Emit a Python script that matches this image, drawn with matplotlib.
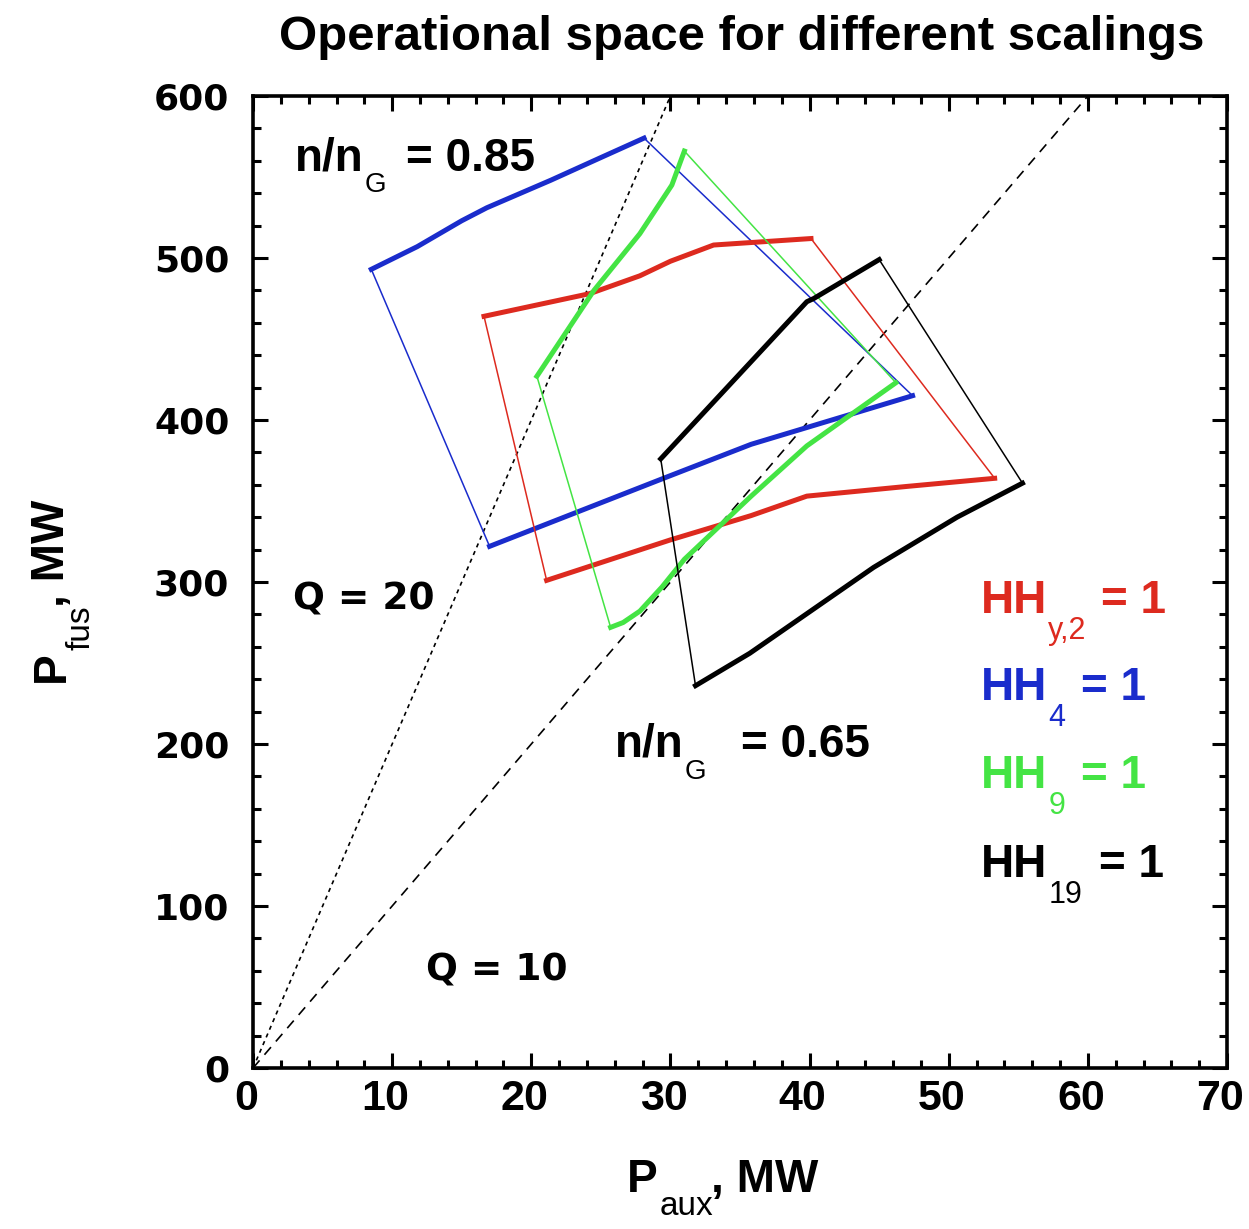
import numpy as np
import matplotlib
matplotlib.use("Agg")
import matplotlib.pyplot as plt
import matplotlib.transforms as mtransforms
from matplotlib.ticker import MultipleLocator

plt.rcParams['font.family'] = ['Liberation Sans', 'DejaVu Sans']

# operating boundaries, P_aux (MW) vs P_fus (MW), for each confinement scaling
# "hi" = n/nG = 0.85 edge, "lo" = n/nG = 0.65 edge, both ordered by P_aux
hy2_pa_hi = [16.6, 24.2, 27.8, 30.0, 33.1, 40.1]
hy2_pf_hi = [464, 478, 489, 498, 508, 512]
hy2_pa_lo = [21.1, 30.0, 35.8, 39.8, 47.0, 53.3]
hy2_pf_lo = [301, 326, 341, 353, 359, 364]

hh4_pa_hi = [8.5, 11.8, 15.0, 16.8, 21.4, 25.0, 28.1]
hh4_pf_hi = [493, 507, 523, 531, 548, 562, 574]
hh4_pa_lo = [17.0, 29.5, 35.8, 47.4]
hh4_pf_lo = [322, 364, 385, 415]

hh9_pa_hi = [20.4, 24.5, 27.8, 30.1, 31.0]
hh9_pf_hi = [427, 480, 515, 545, 566]
hh9_pa_lo = [25.7, 26.6, 27.8, 29.4, 31.0, 35.8, 39.8, 46.2]
hh9_pf_lo = [272, 275, 282, 297, 314, 353, 384, 423]

hh19_pa_hi = [29.3, 39.8, 40.3, 45.0]
hh19_pf_hi = [376, 473, 475, 499]
hh19_pa_lo = [31.8, 35.7, 44.6, 50.6, 55.3]
hh19_pf_lo = [236, 256, 309, 340, 361]

q_values = [20, 10]
q_dashes = [(2.5, 2.5), (6.0, 4.5)]

RED = '#dd2a1f'
BLUE = '#1a2ccc'
GREEN = '#44e444'
BLACK = 'black'

fig = plt.figure(figsize=(12.49, 12.29), dpi=100)
ax = fig.add_axes([0.2026, 0.131, 0.7798, 0.7909])
ax.set_xlim(0, 70)
ax.set_ylim(0, 600)

# Q = P_fus / P_aux lines
for q, dash in zip(q_values, q_dashes):
    pa = np.array([0, 600 / q])
    ax.plot(pa, q * pa, color='black', lw=1.2, dashes=dash)


def draw_region(pa_hi, pf_hi, pa_lo, pf_lo, color):
    ax.plot(pa_hi, pf_hi, color=color, lw=3.6, solid_joinstyle='round')
    ax.plot(pa_lo, pf_lo, color=color, lw=3.6, solid_joinstyle='round')
    # thin sides joining the two density edges
    ax.plot([pa_hi[-1], pa_lo[-1]], [pf_hi[-1], pf_lo[-1]], color=color, lw=1.1)
    ax.plot([pa_hi[0], pa_lo[0]], [pf_hi[0], pf_lo[0]], color=color, lw=1.1)


draw_region(hh4_pa_hi, hh4_pf_hi, hh4_pa_lo, hh4_pf_lo, BLUE)
draw_region(hy2_pa_hi, hy2_pf_hi, hy2_pa_lo, hy2_pf_lo, RED)
draw_region(hh9_pa_hi, hh9_pf_hi, hh9_pa_lo, hh9_pf_lo, GREEN)
draw_region(hh19_pa_hi, hh19_pf_hi, hh19_pa_lo, hh19_pf_lo, BLACK)

# axes frame and ticks
for sp in ax.spines.values():
    sp.set_linewidth(2.6)
ax.xaxis.set_major_locator(MultipleLocator(10))
ax.xaxis.set_minor_locator(MultipleLocator(2))
ax.yaxis.set_major_locator(MultipleLocator(100))
ax.yaxis.set_minor_locator(MultipleLocator(20))
ax.tick_params(which='both', direction='in', top=True, right=True, width=2.2)
ax.tick_params(which='major', length=11)
ax.tick_params(which='minor', length=6)
ax.tick_params(axis='x', which='major', pad=8, labelsize=31)
ax.tick_params(axis='y', which='major', pad=17, labelsize=26)
# x labels sit a little left of their ticks
shift = mtransforms.ScaledTranslation(-7 / 100, 0, fig.dpi_scale_trans)
for lab in ax.get_xticklabels():
    lab.set_fontweight('bold')
    lab.set_transform(lab.get_transform() + shift)
for lab in ax.get_yticklabels():
    lab.set_fontweight('bold')
    lab.set_fontfamily('DejaVu Sans')


def sub_text(x, y, main, sub, rest, color, size, sub_size, rise, gap,
             transform=None, sub_gap=1):
    t1 = ax.text(x, y, main, color=color, fontsize=size, fontweight='bold',
                 va='baseline', transform=transform or ax.transData)
    t2 = ax.annotate(sub, xy=(1, 0), xycoords=t1, xytext=(sub_gap, rise),
                     textcoords='offset points', fontsize=sub_size,
                     color=color, va='top')
    ax.annotate(rest, xy=(1, 0), xycoords=(t2, t1), xytext=(gap, 0),
                textcoords='offset points', fontsize=size, fontweight='bold',
                color=color, va='bottom')


# density labels
sub_text(3.0, 554, 'n/n', 'G', '= 0.85', BLACK, 33, 20, 6, 14)
sub_text(26.0, 192, 'n/n', 'G', '= 0.65', BLACK, 33, 20, 6, 25)

# Q labels
ax.text(2.9, 283, 'Q = 20', fontsize=27, fontweight='bold', family='DejaVu Sans')
ax.text(12.4, 54, 'Q = 10', fontsize=27, fontweight='bold', family='DejaVu Sans')

# scaling legend
sub_text(52.3, 281, 'HH', 'y,2', '= 1', RED, 33, 22, 5, 10)
sub_text(52.3, 227, 'HH', '4', '= 1', BLUE, 33, 22, 5, 11)
sub_text(52.3, 173, 'HH', '9', '= 1', GREEN, 33, 22, 5, 11)
sub_text(52.3, 118, 'HH', '19', '= 1', BLACK, 33, 22, 5, 12)

# title and axis labels
fig.text(0.5935, 0.959, 'Operational space for different scalings',
         ha='center', va='baseline', fontsize=35.4, fontweight='bold')

sub_text(0.502, 0.03, 'P', 'aux', ', MW', BLACK, 33, 24, 8, -1,
         transform=fig.transFigure)

ty = fig.text(0.024, 0.445, 'P', rotation=90, ha='left', va='bottom',
              fontsize=33, fontweight='bold')
tsub = ax.annotate('fus', xy=(1, 1), xycoords=ty, xytext=(-6, 1),
                   textcoords='offset points', rotation=90, ha='left',
                   va='bottom', fontsize=24)
ax.annotate(', MW', xy=(0, 1), xycoords=(ty, tsub), xytext=(0, -1),
            textcoords='offset points', rotation=90, ha='left', va='bottom',
            fontsize=33, fontweight='bold')

fig.savefig('out.png', dpi=100)
